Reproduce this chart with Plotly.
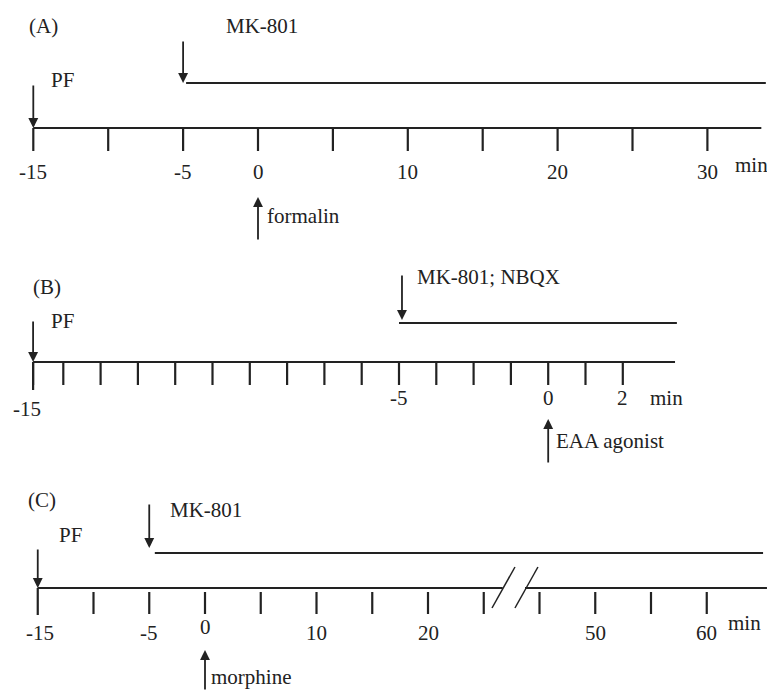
import plotly.graph_objects as go

# ---------------- data ----------------
# Panel A (minutes)
A_ticks = [-15, -10, -5, 0, 5, 10, 15, 20, 25, 30]
A_tick_labels = {-15: "-15", -5: "-5", 0: "0", 10: "10", 20: "20", 30: "30"}
A_axis_end = 33.6
A_mk_start, A_mk_end = -5, 33.9
A_pf, A_formalin = -15, 0

# Panel B (schematic tick steps)
B_ticks = [0.19, 1, 2, 3, 4, 5, 6, 7, 8, 9, 10, 11, 12, 13, 14, 15, 16]
B_tick_labels = {0.19: "-15", 10: "-5", 14: "0", 16: "2"}
B_axis_end = 17.4
B_mk_start, B_mk_end = 10, 17.45
B_pf, B_eaa = 0.19, 14

# Panel C (minutes, axis broken between 25 and 45)
C_ticks = [-15, -10, -5, 0, 5, 10, 15, 20, 25, 45, 50, 55, 60]
C_tick_labels = {-15: "-15", -5: "-5", 0: "0", 10: "10", 20: "20", 50: "50", 60: "60"}
C_break_after, C_gap = 25, 15
C_mk_start, C_mk_end = -4.5, 65.05
C_pf, C_mk_arrow, C_morphine = -15, -5, 0
C_axis_end = 65.4

def cpos(t):
    return t if t <= C_break_after + 5 else t - C_gap

# ---------------- styling / layout constants ----------------
INK = "#222222"
FONT = "Liberation Serif"
FS = 21
W, H = 767, 691

fig = go.Figure()

def seg(xa, x0, x1, y0, y1, width=2.2, color=INK):
    fig.add_trace(go.Scatter(x=[x0, x1], y=[y0, y1], mode="lines", xaxis=xa, yaxis="y",
                             line=dict(color=color, width=width), hoverinfo="skip", showlegend=False))

def ticks(xa, xs, y0, y1, width=2.2):
    xx, yy = [], []
    for v in xs:
        xx += [v, v, None]
        yy += [y0, y1, None]
    fig.add_trace(go.Scatter(x=xx, y=yy, mode="lines", xaxis=xa, yaxis="y",
                             line=dict(color=INK, width=width), hoverinfo="skip", showlegend=False))

annots = []

def text(xr, x, y, s, xanchor="center", xshift=0, size=FS):
    annots.append(dict(xref=xr, yref="y", x=x, y=y, text=s, showarrow=False, xanchor=xanchor,
                       yanchor="middle", xshift=xshift, font=dict(family=FONT, size=size, color=INK)))

def arrow(xr, x, y_tip, y_tail):
    annots.append(dict(xref=xr, yref="y", axref=xr, ayref="y", x=x, y=y_tip, ax=x, ay=y_tail,
                       text="", showarrow=True, arrowhead=2, arrowsize=1.1, arrowwidth=1.8,
                       arrowcolor=INK, standoff=0, startstandoff=0))

# ---------- Panel A ----------
yA_axis, yA_treat = 128, 83
seg("x", A_ticks[0], A_axis_end, yA_axis, yA_axis)
seg("x", A_mk_start + 0.2, A_mk_end, yA_treat, yA_treat)
ticks("x", A_ticks, yA_axis, 151)
for v, s in A_tick_labels.items():
    text("x", v, 172, s)
text("x", A_axis_end, 165, "min", xanchor="left", xshift=-28)
arrow("x", A_mk_start, yA_treat, 40)
arrow("x", A_pf, yA_axis, 84)
arrow("x", A_formalin, 197, 241)
text("x", A_mk_start, 26, "MK-801", xanchor="left", xshift=41)
text("x", A_pf, 80, "PF", xanchor="left", xshift=16)
text("x", A_formalin, 216, "formalin", xanchor="left", xshift=7)
text("x", A_pf, 26, "(A)", xanchor="left", xshift=-6)

# ---------- Panel B ----------
yB_axis, yB_treat = 362, 323
seg("x2", B_ticks[0], B_axis_end, yB_axis, yB_axis)
seg("x2", B_mk_start, B_mk_end, yB_treat, yB_treat)
ticks("x2", B_ticks, yB_axis, 385)
ticks("x2", [B_ticks[0]], yB_axis, 390)
for v, s in B_tick_labels.items():
    text("x2", v, 409 if s == "-15" else 398, s, xshift=-6 if s == "-15" else 0)
text("x2", B_axis_end, 398, "min", xanchor="right", xshift=10)
arrow("x2", B_mk_start + 0.08, yB_treat - 3, 274)
arrow("x2", B_pf, yB_axis, 320)
arrow("x2", B_eaa, 419, 464)
text("x2", B_mk_start, 277, "MK-801; NBQX", xanchor="left", xshift=16)
text("x2", B_pf, 321, "PF", xanchor="left", xshift=16)
text("x2", B_eaa, 441, "EAA agonist", xanchor="left", xshift=6)
text("x2", B_pf, 287, "(B)", xanchor="left", xshift=-2)

# ---------- Panel C ----------
yC_axis, yC_treat = 588, 553
brk = C_break_after + 2.8
seg("x3", cpos(C_ticks[0]), brk - 1.1, yC_axis, yC_axis)
seg("x3", brk + 0.9, cpos(C_axis_end), yC_axis, yC_axis)
for c in (brk - 1.03, brk + 1.03):
    seg("x3", c - 1.03, c + 1.03, 608, 567, width=1.5)
seg("x3", C_mk_start, cpos(C_mk_end), yC_treat, yC_treat)
ticks("x3", [cpos(t) for t in C_ticks if t != C_ticks[0]], 592, 614)
ticks("x3", [cpos(C_ticks[0])], yC_axis, 615)
for v, s in C_tick_labels.items():
    text("x3", cpos(v), 627 if s == "0" else 633, s, xshift=2 if s == "-15" else 0)
text("x3", cpos(C_axis_end), 623, "min", xanchor="right", xshift=-4)
arrow("x3", C_mk_arrow, yC_treat - 5, 503)
arrow("x3", C_pf, yC_axis, 548)
arrow("x3", C_morphine, 650, 691)
text("x3", C_mk_arrow, 510, "MK-801", xanchor="left", xshift=19)
text("x3", C_pf, 535, "PF", xanchor="left", xshift=19)
text("x3", C_morphine, 677, "morphine", xanchor="left", xshift=4)
text("x3", C_pf, 500, "(C)", xanchor="left", xshift=-12)

ax_common = dict(visible=False, showgrid=False, zeroline=False, fixedrange=True, domain=[0, 1])
fig.update_layout(
    width=W, height=H,
    margin=dict(l=0, r=0, t=0, b=0),
    paper_bgcolor="white", plot_bgcolor="white",
    showlegend=False,
    font=dict(family=FONT),
    xaxis=dict(range=[-258 / 14.98, (W - 258) / 14.98], **ax_common),
    xaxis2=dict(range=[-26 / 37.3, (W - 26) / 37.3], overlaying="x", anchor="y", **ax_common),
    xaxis3=dict(range=[-205 / 11.15, (W - 205) / 11.15], overlaying="x", anchor="y", **ax_common),
    yaxis=dict(range=[H, 0], visible=False, showgrid=False, zeroline=False, fixedrange=True, domain=[0, 1]),
    annotations=annots,
)

fig.write_html("out.html")
